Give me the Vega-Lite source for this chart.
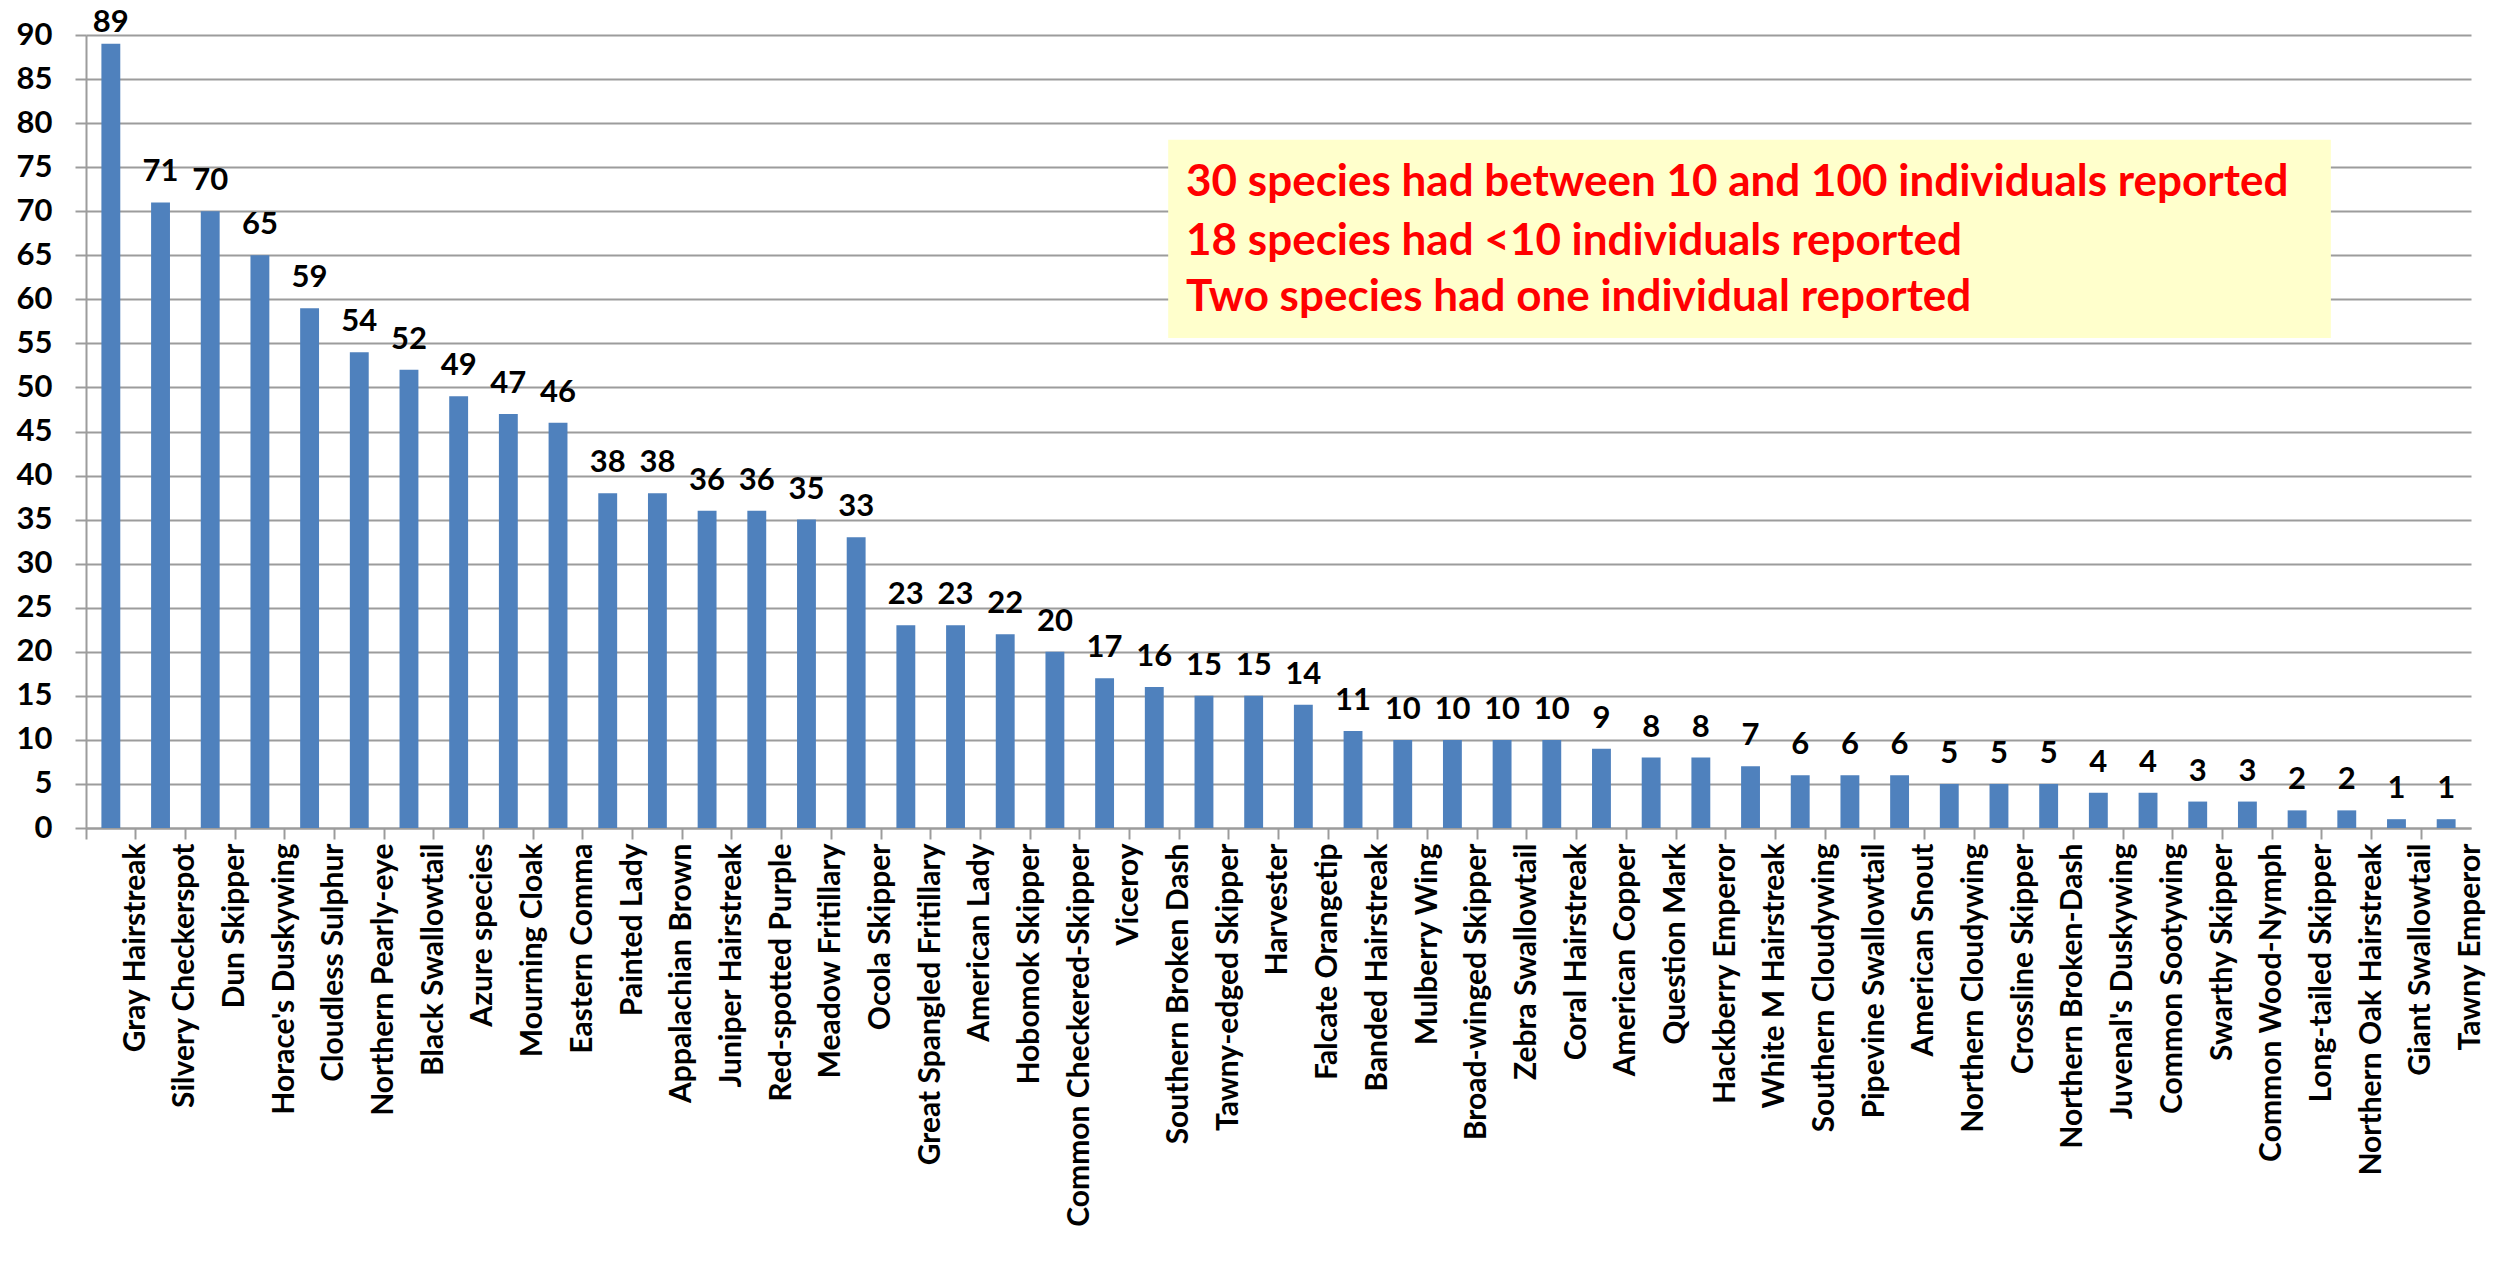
{
  "$schema": "https://vega.github.io/schema/vega-lite/v6.json",
  "autosize": {"type": "none"},
  "width": 2385,
  "height": 793,
  "padding": {"left": 86, "top": 35, "right": 27, "bottom": 451},
  "background": "white",
  "config": {
    "view": {"stroke": null},
    "font": "Lato",
    "axis": {"labelFont": "Lato", "labelFontWeight": "bold", "labelColor": "black"}
  },
  "layer": [
    {
      "data": {"values": [
        {"species": "Gray Hairstreak", "count": 89},
        {"species": "Silvery Checkerspot", "count": 71},
        {"species": "Dun Skipper", "count": 70},
        {"species": "Horace's Duskywing", "count": 65},
        {"species": "Cloudless Sulphur", "count": 59},
        {"species": "Northern Pearly-eye", "count": 54},
        {"species": "Black  Swallowtail", "count": 52},
        {"species": "Azure species", "count": 49},
        {"species": "Mourning Cloak", "count": 47},
        {"species": "Eastern Comma", "count": 46},
        {"species": "Painted Lady", "count": 38},
        {"species": "Appalachian Brown", "count": 38},
        {"species": "Juniper Hairstreak", "count": 36},
        {"species": "Red-spotted Purple", "count": 36},
        {"species": "Meadow Fritillary", "count": 35},
        {"species": "Ocola Skipper", "count": 33},
        {"species": "Great Spangled Fritillary", "count": 23},
        {"species": "American Lady", "count": 23},
        {"species": "Hobomok Skipper", "count": 22},
        {"species": "Common Checkered-Skipper", "count": 20},
        {"species": "Viceroy", "count": 17},
        {"species": "Southern Broken Dash", "count": 16},
        {"species": "Tawny-edged Skipper", "count": 15},
        {"species": "Harvester", "count": 15},
        {"species": "Falcate Orangetip", "count": 14},
        {"species": "Banded Hairstreak", "count": 11},
        {"species": "Mulberry Wing", "count": 10},
        {"species": "Broad-winged Skipper", "count": 10},
        {"species": "Zebra  Swallowtail", "count": 10},
        {"species": "Coral Hairstreak", "count": 10},
        {"species": "American Copper", "count": 9},
        {"species": "Question Mark", "count": 8},
        {"species": "Hackberry Emperor", "count": 8},
        {"species": "White M Hairstreak", "count": 7},
        {"species": "Southern Cloudywing", "count": 6},
        {"species": "Pipevine Swallowtail", "count": 6},
        {"species": "American Snout", "count": 6},
        {"species": "Northern Cloudywing", "count": 5},
        {"species": "Crossline Skipper", "count": 5},
        {"species": "Northern Broken-Dash", "count": 5},
        {"species": "Juvenal's Duskywing", "count": 4},
        {"species": "Common Sootywing", "count": 4},
        {"species": "Swarthy Skipper", "count": 3},
        {"species": "Common Wood-Nymph", "count": 3},
        {"species": "Long-tailed Skipper", "count": 2},
        {"species": "Northern Oak Hairstreak", "count": 2},
        {"species": "Giant  Swallowtail", "count": 1},
        {"species": "Tawny Emperor", "count": 1}
      ]},
      "encoding": {
        "x": {
          "field": "species", "type": "nominal", "sort": null,
          "scale": {"paddingInner": 0, "paddingOuter": 0},
          "axis": {
            "title": null, "labelAngle": -90, "labelFontSize": 30,
            "bandPosition": 0, "labelOffset": 24.84,
            "tickSize": 11, "tickColor": "#9c9c9c", "tickWidth": 2,
            "domainColor": "#9c9c9c", "domainWidth": 2,
            "labelPadding": 4, "labelLimit": 500
          }
        },
        "y": {
          "field": "count", "type": "quantitative",
          "scale": {"domain": [0, 90], "nice": false},
          "axis": {
            "title": null, "values": [0,5,10,15,20,25,30,35,40,45,50,55,60,65,70,75,80,85,90],
            "labelFontSize": 31, "tickSize": 11, "tickColor": "#9c9c9c", "tickWidth": 2,
            "gridColor": "#9c9c9c", "gridWidth": 2, "domainColor": "#9c9c9c", "domainWidth": 2,
            "labelPadding": 23
          }
        }
      },
      "layer": [
        {"mark": {"type": "bar", "color": "#4F81BD", "width": {"band": 0.38}}},
        {"transform": [{"filter": "datum.count < 85"}], "mark": {"type": "text", "fontSize": 31, "fontWeight": "bold", "font": "Lato", "color": "black", "baseline": "bottom", "dy": -14}, "encoding": {"text": {"field": "count"}}},
        {"transform": [{"filter": "datum.count >= 85"}], "mark": {"type": "text", "fontSize": 31, "fontWeight": "bold", "font": "Lato", "color": "black", "baseline": "bottom", "dy": -5}, "encoding": {"text": {"field": "count"}}}
      ]
    },
    {
      "data": {"values": [{"x1": 21.78, "x2": 45.18, "y1": 55.6, "y2": 78.1}]},
      "mark": {"type": "rect", "color": "#FFFFCC"},
      "encoding": {
        "x": {"field": "x1", "type": "quantitative", "scale": {"domain": [0, 48], "nice": false, "zero": false}, "axis": null},
        "x2": {"field": "x2"},
        "y": {"field": "y1", "type": "quantitative"},
        "y2": {"field": "y2"}
      }
    },
    {
      "data": {"values": [
        {"tx": 22.14, "ty": 73.2, "line": "30 species had between 10 and 100 individuals reported"},
        {"tx": 22.14, "ty": 66.5, "line": "18 species had <10 individuals reported"},
        {"tx": 22.14, "ty": 60.2, "line": "Two species had one individual reported"}
      ]},
      "mark": {"type": "text", "align": "left", "baseline": "middle", "fontSize": 44, "fontWeight": "bold", "font": "Lato", "color": "#FF0000"},
      "encoding": {
        "x": {"field": "tx", "type": "quantitative", "scale": {"domain": [0, 48], "nice": false, "zero": false}, "axis": null},
        "y": {"field": "ty", "type": "quantitative"},
        "text": {"field": "line"}
      }
    }
  ],
  "resolve": {"scale": {"x": "independent"}, "axis": {"x": "independent"}}
}
